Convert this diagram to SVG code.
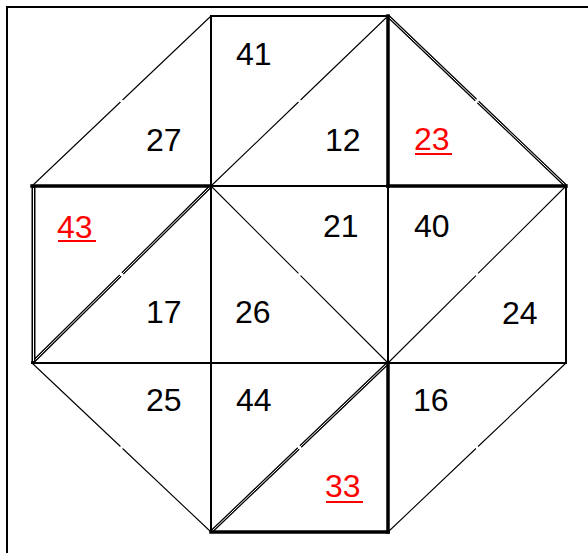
<svg xmlns="http://www.w3.org/2000/svg" width="588" height="553" viewBox="0 0 588 553">
<style>
.n{stroke:#000;stroke-width:2;fill:none;stroke-linecap:square}
.k{stroke:#000;stroke-width:3.5;fill:none;stroke-linecap:square}
.t{stroke:#000;stroke-width:1.1;fill:none;stroke-dasharray:49.4 1.2 60}
.d{stroke:#000;stroke-width:3.2;fill:none;stroke-dasharray:49.4 1.2 60}
.dw{stroke:#fff;stroke-width:1;fill:none}
text{font-family:"Liberation Sans",Arial,sans-serif;font-size:32px;fill:#000}
.r{fill:#f00}
.u{stroke:#f00;stroke-width:2}
</style>
<rect width="588" height="553" fill="#fff"/>
<g id="frame">
<line class="n" x1="7" y1="7" x2="590" y2="7"/>
<line class="n" x1="7" y1="7" x2="7" y2="555"/>
</g>
<g id="connectors">
<!-- thin diagonals -->
<line class="t" pathLength="100" x1="32" y1="186" x2="211" y2="16"/>
<line class="t" pathLength="100" x1="211" y1="186" x2="388" y2="16"/>
<line class="t" pathLength="100" x1="211" y1="186" x2="388" y2="363"/>
<line class="t" pathLength="100" x1="388" y1="363" x2="566" y2="186"/>
<line class="t" pathLength="100" x1="32" y1="363" x2="211" y2="532"/>
<line class="t" pathLength="100" x1="388" y1="532" x2="566" y2="363"/>
<!-- double diagonals -->
<line class="d" pathLength="100" x1="388" y1="16" x2="566" y2="186"/>
<line class="dw" x1="388" y1="16" x2="566" y2="186"/>
<line class="d" pathLength="100" x1="32" y1="363" x2="211" y2="186"/>
<line class="dw" x1="32" y1="363" x2="211" y2="186"/>
<line class="d" pathLength="100" x1="211" y1="532" x2="388" y2="363"/>
<line class="dw" x1="211" y1="532" x2="388" y2="363"/>
<!-- normal edges -->
<line class="n" x1="211" y1="16" x2="388" y2="16"/>
<line class="n" x1="211" y1="16" x2="211" y2="532"/>
<line class="n" x1="211" y1="186" x2="388" y2="186"/>
<line class="n" x1="32" y1="363" x2="566" y2="363"/>
<line class="n" x1="388" y1="186" x2="388" y2="363"/>
<line class="n" x1="566" y1="186" x2="566" y2="363"/>
<!-- thick edges -->
<line class="k" x1="388" y1="16" x2="388" y2="186"/>
<line class="k" x1="388" y1="186" x2="566" y2="186"/>
<line class="k" x1="32" y1="186" x2="211" y2="186"/>
<line class="k" x1="388" y1="363" x2="388" y2="532"/>
<line class="k" x1="211" y1="532" x2="388" y2="532"/>
<!-- double left edge -->
<line stroke="#000" stroke-width="4" x1="33.5" y1="186" x2="33.5" y2="363"/>
<line stroke="#fff" stroke-width="1" x1="33.5" y1="188" x2="33.5" y2="361"/>
</g>
<g id="n41"><text x="236" y="65">41</text></g>
<g id="n27"><text x="146" y="151">27</text></g>
<g id="n12"><text x="325" y="151">12</text></g>
<g id="n23"><text class="r" x="414" y="150">23</text><line class="u" x1="415" y1="154" x2="452" y2="154"/></g>
<g id="n43"><text class="r" x="57" y="238">43</text><line class="u" x1="58" y1="241" x2="96" y2="241"/></g>
<g id="n21"><text x="323" y="237">21</text></g>
<g id="n40"><text x="414" y="237">40</text></g>
<g id="n17"><text x="146" y="323">17</text></g>
<g id="n26"><text x="235" y="323">26</text></g>
<g id="n24"><text x="502" y="324">24</text></g>
<g id="n25"><text x="146" y="411">25</text></g>
<g id="n44"><text x="236" y="411">44</text></g>
<g id="n16"><text x="413" y="411">16</text></g>
<g id="n33"><text class="r" x="325" y="497">33</text><line class="u" x1="326" y1="502" x2="363" y2="502"/></g>
</svg>
